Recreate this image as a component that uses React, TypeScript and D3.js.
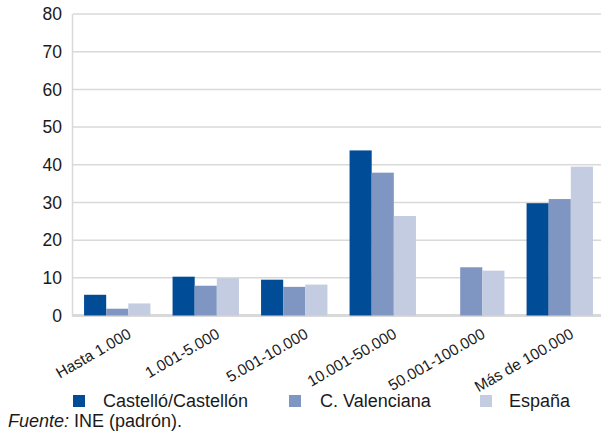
import React from "react";
import * as d3 from "d3";

const categories = ["Hasta 1.000", "1.001-5.000", "5.001-10.000", "10.001-50.000", "50.001-100.000", "Más de 100.000"];
const seriesNames = ["Castelló/Castellón", "C. Valenciana", "España"];
const castellon = [5.5, 10.3, 9.5, 43.8, 0, 29.8];
const valenciana = [1.8, 7.9, 7.6, 37.9, 12.8, 30.9];
const espana = [3.2, 9.9, 8.2, 26.4, 11.9, 39.5];
const yTicks = [0, 10, 20, 30, 40, 50, 60, 70, 80];
const colors = ["#004c97", "#7f96c2", "#c3cce0"];
const sourceLabel = "Fuente:";
const sourceText = " INE (padrón).";

const W = 601;
const H = 437;
const FONT = "'Liberation Sans', Arial, Helvetica, sans-serif";

export default function App() {
  const series = [castellon, valenciana, espana];
  const left = 73;
  const right = 604;
  const x0 = d3.scaleBand<string>().domain(categories).range([left, right]).paddingInner(0.25).paddingOuter(0.125);
  const x1 = d3.scaleBand<string>().domain(seriesNames).range([0, x0.bandwidth()]).padding(0);
  const y = d3.scaleLinear().domain([0, 80]).range([315.5, 14]);

  const legendX = [73, 289, 480];
  const legendTextX = [103, 320, 509];

  return (
    <svg width={W} height={H} style={{ position: "absolute", left: 0, top: 0, background: "#fff" }} fontFamily={FONT}>
      <rect x={0} y={0} width={W} height={H} fill="#fff" />
      {/* gridlines */}
      {yTicks.map((t) => (
        <line key={t} x1={left} x2={W} y1={y(t)} y2={y(t)} stroke="#d9d9d9" strokeWidth={t === 0 ? 3 : 1.5} />
      ))}
      {/* y axis line */}
      <line x1={left - 0.5} x2={left - 0.5} y1={y(80)} y2={y(0) + 1.5} stroke="#d9d9d9" strokeWidth={1.5} />
      {/* y tick labels */}
      {yTicks.map((t) => (
        <text key={t} x={62} y={y(t)} dy="0.36em" textAnchor="end" fontSize={17.5} fill="#1a1a1a">
          {t}
        </text>
      ))}
      {/* bars */}
      {categories.map((c, i) => (
        <g key={c} transform={`translate(${x0(c)},0)`}>
          {series.map((s, j) =>
            s[i] > 0 ? (
              <rect
                key={j}
                x={x1(seriesNames[j])}
                y={y(s[i])}
                width={x1.bandwidth()}
                height={y(0) - y(s[i])}
                fill={colors[j]}
              />
            ) : null
          )}
        </g>
      ))}
      {/* x labels */}
      {categories.map((c) => {
        const cx = (x0(c) as number) + x0.bandwidth() / 2 + 15;
        const cy = 337;
        return (
          <text key={c} x={cx} y={cy} textAnchor="end" fontSize={15.5} fill="#1a1a1a" transform={`rotate(-30, ${cx}, ${cy})`}>
            {c}
          </text>
        );
      })}
      {/* legend */}
      {seriesNames.map((n, j) => (
        <g key={n}>
          <rect x={legendX[j]} y={395} width={12} height={12} fill={colors[j]} />
          <text x={legendTextX[j]} y={407} fontSize={18} fill="#1a1a1a">
            {n}
          </text>
        </g>
      ))}
      {/* source */}
      <text x={8} y={427} fontSize={18} fill="#1a1a1a">
        <tspan fontStyle="italic">{sourceLabel}</tspan>
        <tspan>{sourceText}</tspan>
      </text>
    </svg>
  );
}
